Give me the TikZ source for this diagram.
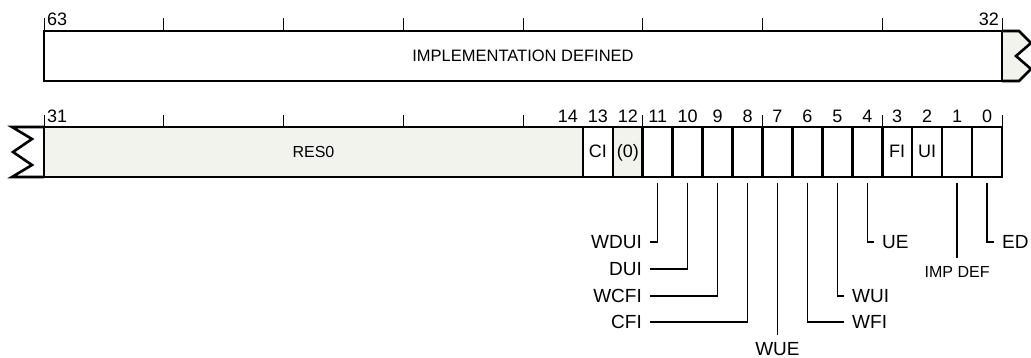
\documentclass[tikz,border=0pt]{standalone}
\usepackage{fontspec}
\setmainfont{Liberation Sans}
\usetikzlibrary{positioning}
\definecolor{resgray}{RGB}{243,243,238}
\newcommand{\bitw}{29.9375}
\tikzset{
regline/.style={line width=2.6pt,line join=miter},
bitbox/.style={
  draw,
  line width=2.6pt,
  minimum width=\bitw pt,
  minimum height=50pt,
  inner sep=0pt,
  outer sep=0pt,
  anchor=north west,
  text height=1.1em,
  text depth=0pt,
  font=\fontsize{18}{20}\selectfont
},
resbox/.style={bitbox,fill=resgray},
ruletick/.style={line width=1pt},
bitnum/.style={anchor=base,inner sep=0pt,font=\fontsize{18}{20}\selectfont},
leader/.style={line width=1.3pt},
leadlabel/.style={inner xsep=8pt,inner ysep=0pt,font=\fontsize{19}{21}\selectfont},
}
\begin{document}
\begin{tikzpicture}[x=1pt,y=-1pt]
\useasboundingbox (0,0) rectangle (1031,358);
% upper word, bits 63..32
\filldraw[regline,fill=resgray] (1002,31) -- (1019,31) -- (1031,43) -- (1016,56)
  -- (1031,69) -- (1019,81) -- (1002,81);
\node[bitbox,minimum width=958pt,font=\fontsize{16.5}{19}\selectfont] (impl) at (44,31) {IMPLEMENTATION DEFINED};
\node[bitnum,anchor=base west] (n63) at (47,26) {63};
\node[bitnum,anchor=base east] (n32) at (999,26) {32};
% lower word, bits 31..0
\draw[regline] (44,127) -- (12,127) -- (32,139) -- (13,152) -- (32,165) -- (12,177) -- (44,177);
\node[resbox,minimum width=538.875pt,font=\fontsize{16}{19}\selectfont] (res0) at (44,127) {RES0};
\foreach \n/\sty/\txt in {13/bitbox/CI,12/resbox/{(0)},11/bitbox/{},10/bitbox/{},9/bitbox/{},
  8/bitbox/{},7/bitbox/{},6/bitbox/{},5/bitbox/{},4/bitbox/{},3/bitbox/FI,2/bitbox/UI,1/bitbox/{},0/bitbox/{}}
  \node[\sty] (b\n) at ({44+(31-\n)*\bitw},127) {\txt};
\node[bitnum,anchor=base west] (n31) at (47,123) {31};
\foreach \n in {14,...,0}
  \node[bitnum] (n\n) at ({44+(31.5-\n)*\bitw},123) {\n};
% the ruler ticks
\foreach \i in {0,...,8}
{
  \draw[ruletick] ({44+\i*119.75},18) -- ++(0,13);
  \draw[ruletick] ({44+\i*119.75},115) -- ++(0,12);
}
% the field names
\node[leadlabel,anchor=east] (wdui) at (650,242) {WDUI};
\node[leadlabel,anchor=east] (dui) at (650,269) {DUI};
\node[leadlabel,anchor=east] (wcfi) at (650,296) {WCFI};
\node[leadlabel,anchor=east] (cfi) at (650,322) {CFI};
\node[leadlabel,anchor=west] (wfi) at (844,322) {WFI};
\node[leadlabel,anchor=west] (wui) at (844,296) {WUI};
\node[leadlabel,anchor=west] (ue) at (874,242) {UE};
\node[leadlabel,anchor=west] (ed) at (994,242) {ED};
\node[leadlabel,inner ysep=7pt,below=158pt of b7] (wue) {WUE};
\node[leadlabel,inner ysep=8pt,below=81pt of b1,font=\fontsize{16}{18}\selectfont] (impdef) {IMP DEF};
% the leaders
\foreach \b/\l in {11/wdui.east,10/dui.east,9/wcfi.east,8/cfi.east,6/wfi.west,5/wui.west,4/ue.west,0/ed.west}
  \draw[leader] ([yshift=-6pt]b\b.south) |- (\l);
\draw[leader] ([yshift=-6pt]b7.south) -- (wue.north);
\draw[leader] ([yshift=-6pt]b1.south) -- (impdef.north);
\end{tikzpicture}
\end{document}
